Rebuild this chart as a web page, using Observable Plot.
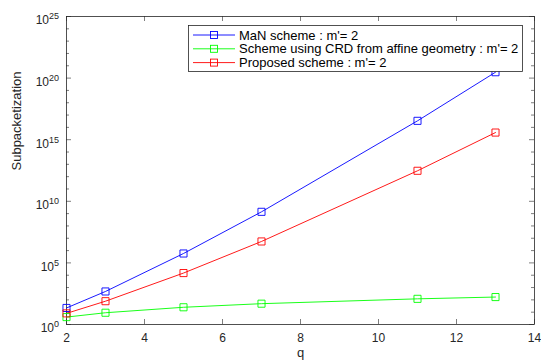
<!DOCTYPE html>
<html><head><meta charset="utf-8">
<script src="https://cdn.jsdelivr.net/npm/d3@7"></script>
<script src="https://cdn.jsdelivr.net/npm/@observablehq/plot@0.6"></script>
<style>body{margin:0;background:#fff;} svg{display:block;}</style>
</head><body><div id="chart"></div>
<script>
// ---- data ----
const q = [2, 3, 5, 7, 11, 13];
const manValues = [22, 480, 5.8e5, 1.4e9, 3.4e16, 3e20];
const crdValues = [4, 9, 25, 49, 121, 169];
const proposedValues = [8, 78, 1.5e4, 5.5e6, 3e12, 3.8e15];
const seriesNames = ["MaN scheme : m'= 2", "Scheme using CRD from affine geometry : m'= 2", "Proposed scheme : m'= 2"];
const seriesColors = ["#0000ff", "#00ff00", "#ff0000"];
const xTicks = [2, 4, 6, 8, 10, 12, 14];
const yMajor = [1e0, 1e5, 1e10, 1e15, 1e20, 1e25];
const yMinor = [1e1, 1e2, 1e3, 1e4, 1e6, 1e7, 1e8, 1e9, 1e11, 1e12, 1e13, 1e14, 1e16, 1e17, 1e18, 1e19, 1e21, 1e22, 1e23, 1e24];
const xLabel = "q";
const yLabel = "Subpacketization";

// ---- layout ----
const W = 541, H = 362, ML = 66, MR = 7, MT = 16, MB = 38;
const FW = W - ML - MR, FH = H - MT - MB;
const axisColor = "#262626";
const font = "Liberation Sans, Arial, Helvetica, sans-serif";

const seriesValues = [manValues, crdValues, proposedValues];
const rows = seriesNames.flatMap((name, i) => q.map((qq, j) => ({q: qq, v: seriesValues[i][j], name})));

const plot = Plot.plot({
  width: W, height: H,
  marginLeft: ML, marginRight: MR, marginTop: MT, marginBottom: MB,
  style: {fontFamily: font, fontSize: "12px", color: axisColor, background: "#fff", overflow: "visible"},
  x: {domain: [2, 14]},
  y: {type: "log", domain: [1, 1e25]},
  color: {domain: seriesNames, range: seriesColors},
  marks: [
    Plot.tickY(yMinor, {y: d => d, stroke: axisColor, strokeWidth: 0.6, insetRight: FW - 3}),
    Plot.tickY(yMinor, {y: d => d, stroke: axisColor, strokeWidth: 0.6, insetLeft: FW - 3}),
    Plot.tickY(yMajor, {y: d => d, stroke: axisColor, strokeWidth: 0.6, insetRight: FW - 5}),
    Plot.tickY(yMajor, {y: d => d, stroke: axisColor, strokeWidth: 0.6, insetLeft: FW - 5}),
    Plot.tickX(xTicks, {x: d => d, stroke: axisColor, strokeWidth: 0.6, insetTop: FH - 5}),
    Plot.tickX(xTicks, {x: d => d, stroke: axisColor, strokeWidth: 0.6, insetBottom: FH - 5}),
    Plot.frame({stroke: axisColor, strokeWidth: 0.8}),
    Plot.axisX(xTicks, {tickSize: 0, tickPadding: 9, label: null, fontSize: 12}),
    Plot.axisY(yMajor, {tickSize: 0, tickPadding: 7.5, label: null, dy: 4,
      tickFormat: d => "10^" + Math.round(Math.log10(d)), fontSize: 12}),
    Plot.text([xLabel], {frameAnchor: "bottom", dy: 32, text: d => d, fontSize: 13, fill: axisColor}),
    Plot.text([yLabel], {frameAnchor: "left", dx: -50, rotate: -90, text: d => d, fontSize: 13, fill: axisColor}),
    Plot.line(rows, {x: "q", y: "v", stroke: "name", z: "name", strokeWidth: 0.9}),
    Plot.dot(rows, {x: "q", y: "v", stroke: "name", symbol: "square", r: 4, strokeWidth: 0.9, fill: "none"})
  ]
});

// superscript exponents on y tick labels
d3.select(plot).selectAll('[aria-label="y-axis tick label"] text').each(function () {
  const t = this.textContent;
  const [b, e] = t.split("^");
  this.textContent = "";
  const s = d3.select(this);
  s.append("tspan").text(b);
  s.append("tspan").attr("dy", -5).attr("font-size", "9px").text(e);
});

// legend
const svg = d3.select(plot);
const lg = svg.append("g").attr("font-family", font).attr("font-size", 13).attr("text-anchor", "start");
lg.append("rect").attr("x", 188.5).attr("y", 25.5).attr("width", 334).attr("height", 46)
  .attr("fill", "#fff").attr("stroke", axisColor).attr("stroke-width", 0.8);
seriesNames.forEach((name, i) => {
  const y = 35 + i * 13.8;
  lg.append("line").attr("x1", 193).attr("x2", 235).attr("y1", y).attr("y2", y)
    .attr("stroke", seriesColors[i]).attr("stroke-width", 0.9);
  lg.append("rect").attr("x", 214 - 3.5).attr("y", y - 3.5).attr("width", 7).attr("height", 7)
    .attr("fill", "none").attr("stroke", seriesColors[i]).attr("stroke-width", 0.9);
  lg.append("text").attr("x", 239).attr("y", y).attr("dy", "0.35em").attr("text-anchor", "start")
    .attr("fill", "#000").text(name);
});

document.getElementById("chart").appendChild(plot);
</script>
</body></html>
